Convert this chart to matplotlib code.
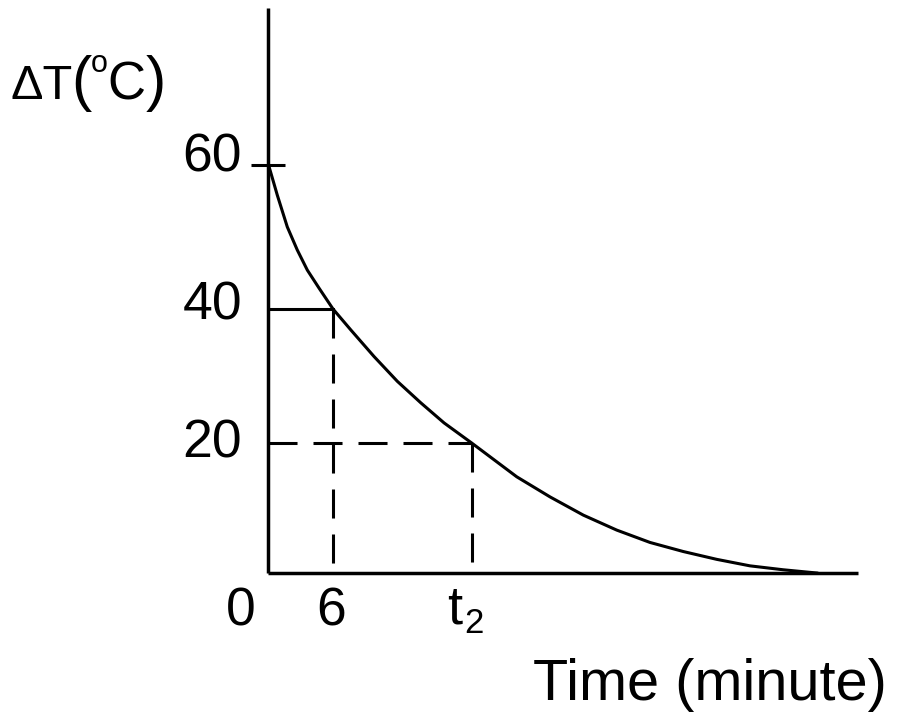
import numpy as np
import matplotlib
matplotlib.use("Agg")
import matplotlib.pyplot as plt

plt.rcParams["font.family"] = ["Liberation Sans", "DejaVu Sans"]
plt.rcParams["lines.scale_dashes"] = False

# Cooling curve (time in minutes, temperature difference in degC)
CURVE_T = [0, 0.09, 0.86, 1.78, 2.70, 3.63, 4.71, 6.0, 7.63, 9.79, 11.94, 14.10,
           16.25, 18.8, 22.96, 26.04, 29.11, 32.19, 35.26, 38.34, 41.42, 44.49,
           47.54, 50.65]
CURVE_DT = [60, 59.8, 55.8, 51.4, 48.2, 45.4, 42.9, 40, 36.9, 32.9, 29.2, 26.0,
            23.0, 20, 14.8, 11.7, 8.9, 6.6, 4.7, 3.3, 2.1, 1.1, 0.5, 0.0]

# Marked points: (6 min, 40 degC) and (t2, 20 degC)
T_MARKS = [6, 18.8]
DT_MARKS = [40, 20]

Y_LABELS = ["60", "40", "20"]
Y_LABEL_VALUES = [60, 40, 20]
X_LABELS = ["0", "6"]
X_LABEL_VALUES = [0, 6]

X_MAX = 54.46
Y_MAX = 81.8

# The sketch's vertical axis is not evenly spaced, so map it piecewise
Y_KNOTS = [0, 20, 40, 60, 100]
H_KNOTS = [0, 130, 264, 408, 696]


def forward(y):
    return np.interp(y, Y_KNOTS, H_KNOTS)


def inverse(h):
    return np.interp(h, H_KNOTS, Y_KNOTS)


W, H = 900, 728
fig = plt.figure(figsize=(9, 7.28), dpi=100)
ax = fig.add_axes([268 / W, (H - 573) / H, (858 - 268) / W, (573 - 8) / H])
ax.set_yscale("function", functions=(forward, inverse))
ax.set_xlim(0, X_MAX)
ax.set_ylim(0, Y_MAX)

for side in ["top", "right"]:
    ax.spines[side].set_visible(False)
for side in ["left", "bottom"]:
    ax.spines[side].set_linewidth(2.5)
    ax.spines[side].set_capstyle("butt")

# only the 60 mark has a tick, crossing the axis
ax.set_xticks([])
ax.set_yticks([Y_LABEL_VALUES[0]])
ax.set_yticklabels([""])
ax.yaxis.set_minor_locator(matplotlib.ticker.NullLocator())
ax.tick_params(axis="y", direction="inout", length=24.5, width=2.2)

ax.plot(CURVE_T, CURVE_DT, color="black", lw=2.2, solid_joinstyle="round")

dash = (20.9, 11.5)
# solid line at 40, dashed guides elsewhere
ax.plot([0, T_MARKS[0]], [DT_MARKS[0], DT_MARKS[0]], color="black", lw=2.2)
ax.plot([T_MARKS[0], T_MARKS[0]], [DT_MARKS[0], 0], color="black", lw=2.2,
        dashes=dash)
ax.plot([0, T_MARKS[1]], [DT_MARKS[1], DT_MARKS[1]], color="black", lw=2.2,
        dashes=dash)
ax.plot([T_MARKS[1], T_MARKS[1]], [DT_MARKS[1], 0], color="black", lw=2.2,
        dashes=dash)

# y labels, nudged like in the drawing
y_offsets = [-7, -11, -15]
for lab, val, dy in zip(Y_LABELS, Y_LABEL_VALUES, y_offsets):
    ax.annotate(lab, xy=(0, val), xytext=(-26, dy), textcoords="offset pixels",
                ha="right", va="baseline", fontsize=38.5, annotation_clip=False)

x_offsets = [-27.5, -1.5]
for lab, val, dx in zip(X_LABELS, X_LABEL_VALUES, x_offsets):
    ax.annotate(lab, xy=(val, 0), xytext=(dx, -52), textcoords="offset pixels",
                ha="center", va="baseline", fontsize=38.5, annotation_clip=False)

ax.annotate("t", xy=(T_MARKS[1], 0), xytext=(-16.5, -50), textcoords="offset pixels",
            ha="center", va="baseline", fontsize=39, annotation_clip=False)
ax.annotate("2", xy=(T_MARKS[1], 0), xytext=(2.5, -60), textcoords="offset pixels",
            ha="center", va="baseline", fontsize=25, annotation_clip=False)


def fx(px):
    return px / W


def fy(py):
    return 1 - py / H


fig.text(fx(533), fy(700), "Time (minute)", fontsize=41.5, ha="left", va="baseline")

# axis title  "ΔT(ºC)"
fig.text(fx(11), fy(99), "ΔT", fontsize=35, ha="left", va="baseline")
fig.text(fx(81.5), fy(99), "(", fontsize=44, ha="center", va="baseline")
fig.text(fx(99.5), fy(72), "o", fontsize=22, ha="center", va="baseline")
fig.text(fx(126), fy(99), "C", fontsize=38, ha="center", va="baseline")
fig.text(fx(155.5), fy(99), ")", fontsize=44, ha="center", va="baseline")

fig.savefig("out.png", dpi=100)
